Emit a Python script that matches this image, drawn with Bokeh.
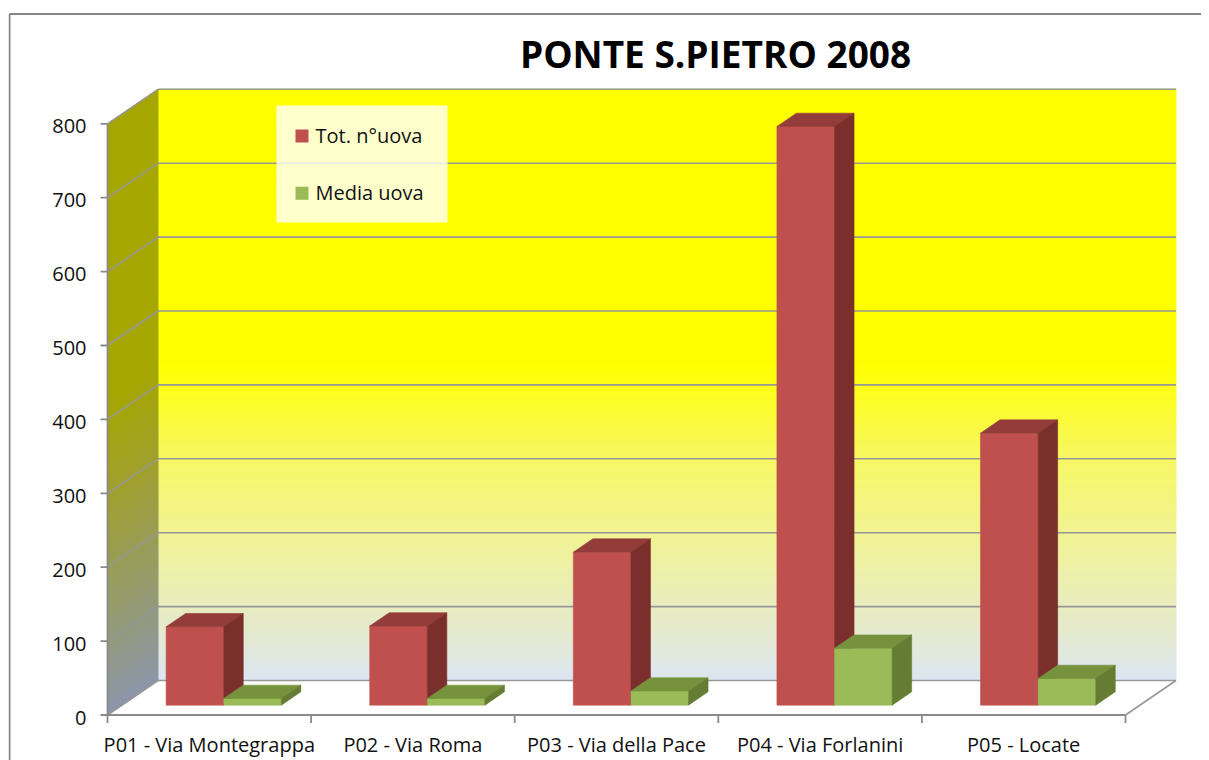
from bokeh.plotting import figure
from bokeh.embed import file_html
from bokeh.resources import INLINE
from bokeh.core.properties import value
from bokeh.models import Range1d

# ---------------- data ----------------
title_text = "PONTE S.PIETRO 2008"
categories = ["P01 - Via Montegrappa", "P02 - Via Roma", "P03 - Via della Pace",
              "P04 - Via Forlanini", "P05 - Locate"]
series_names = ["Tot. n°uova", "Media uova"]
tot_uova = [106, 107, 207, 783, 368]
media_uova = [9, 9, 19, 77, 36]
y_ticks = [0, 100, 200, 300, 400, 500, 600, 700, 800]
y_max = 800

# ---------------- layout constants ----------------
W, H = 1193, 752
PAGE = 8
OX, OY = 107 - PAGE, 714.5 - PAGE      # canvas px of the data origin (front plane)
SX = 203.6                              # px per category band
SY = 0.739                              # px per value unit
DXP, DYP = 50.5, 34.5                   # depth of the 3D box in px
DX, DY = DXP / SX, DYP / SY
TF, TB = 0.286, 0.672                   # bar depth (fraction of box depth)
BAR_L, BAR_M, BAR_R = 0.217, 0.5, 0.783 # bar edges inside a band

FONT = value("Open Sans")
RED = ("#C0504D", "#943C3A", "#7A2F2D")
GREEN = ("#9BBB59", "#76923C", "#657C33")
GRID = "#979797"


def cx(px):
    return (px - PAGE - OX) / SX


def cy(py):
    return (OY - (py - PAGE)) / SY


def interp(stops, v):
    for (v0, c0), (v1, c1) in zip(stops, stops[1:]):
        if v0 <= v <= v1:
            f = (v - v0) / (v1 - v0) if v1 != v0 else 0
            return "#%02x%02x%02x" % tuple(int(round(a + (b - a) * f)) for a, b in zip(c0, c1))
    return "#%02x%02x%02x" % (stops[-1][1] if v > stops[-1][0] else stops[0][1])


back_stops = [(0, (220, 230, 242)), (60, (228, 233, 210)), (150, (237, 240, 168)),
              (300, (247, 247, 100)), (430, (255, 255, 0)), (800, (255, 255, 0))]
side_stops = [(0, (140, 150, 170)), (150, (150, 155, 105)), (300, (160, 160, 45)),
              (430, (166, 166, 0)), (800, (166, 166, 0))]

N = len(categories)

p = figure(width=W, height=H,
           x_range=Range1d(cx(PAGE), cx(PAGE + W)),
           y_range=Range1d(cy(PAGE + H), cy(PAGE)),
           output_backend="svg", toolbar_location=None, tools="",
           x_axis_location=None, y_axis_location=None, min_border=0)
p.outline_line_color = None
p.xgrid.visible = False
p.ygrid.visible = False
p.background_fill_color = "white"
p.border_fill_color = "white"
p.margin = (8, 0, 0, 8)

# ---------------- walls (gradient strips) ----------------
nstrip = 120
bxs, bys, bcs, sxs, sys_, scs = [], [], [], [], [], []
for k in range(nstrip):
    v1 = y_max * k / nstrip
    v2 = y_max * (k + 1) / nstrip
    vm = (v1 + v2) / 2
    bxs.append([DX, N + DX, N + DX, DX])
    bys.append([v1 + DY, v1 + DY, v2 + DY, v2 + DY])
    bcs.append(interp(back_stops, vm))
    sxs.append([0, DX, DX, 0])
    sys_.append([v1, v1 + DY, v2 + DY, v2])
    scs.append(interp(side_stops, vm))
p.patches(bxs, bys, fill_color=bcs, line_color=bcs, line_width=1)
p.patches(sxs, sys_, fill_color=scs, line_color=scs, line_width=1)

# ---------------- gridlines and box edges ----------------
gx, gy = [], []
for v in y_ticks:
    gx.append([DX, N + DX]); gy.append([v + DY, v + DY])
    gx.append([0, DX]); gy.append([v, v + DY])
gx.append([N, N + DX]); gy.append([0, DY])
p.multi_line(gx, gy, line_color=GRID, line_width=1.6)

# axes lines and ticks
ax, ay = [[0, N], [0, 0]], [[0, 0], [0, y_max]]
for i in range(N + 1):
    ax.append([i, i]); ay.append([0, -8 / SY])
for v in y_ticks:
    ax.append([-7 / SX, 0]); ay.append([v, v])
p.multi_line(ax, ay, line_color="#8a8a8a", line_width=1.8)

# ---------------- bars ----------------
pxs, pys, pcs = [], [], []
for i in range(N):
    for vals, cols, (a, b) in ((tot_uova, RED, (BAR_L, BAR_M)), (media_uova, GREEN, (BAR_M, BAR_R))):
        v = vals[i]
        x0, x1 = i + a, i + b
        f0, f1 = x0 + TF * DX, x1 + TF * DX
        b0, b1 = x0 + TB * DX, x1 + TB * DX
        yf, yb = TF * DY, TB * DY
        pxs.append([f0, f1, f1, f0]); pys.append([yf, yf, v + yf, v + yf]); pcs.append(cols[0])
        pxs.append([f0, f1, b1, b0]); pys.append([v + yf, v + yf, v + yb, v + yb]); pcs.append(cols[1])
        pxs.append([f1, b1, b1, f1]); pys.append([yf, yb, v + yb, v + yf]); pcs.append(cols[2])
p.patches(pxs, pys, fill_color=pcs, line_color=pcs, line_width=0.6)

# ---------------- legend ----------------
p.quad(left=[cx(276)], right=[cx(447)], top=[cy(105)], bottom=[cy(222)],
       fill_color="white", fill_alpha=0.8, line_color=None)
leg_y = [cy(135.5), cy(192.7)]
p.scatter([cx(301.5)] * 2, leg_y, marker="square", size=13,
          fill_color=[RED[0], GREEN[0]], line_color=None)
p.text([cx(315)] * 2, [cy(134.5), cy(191.5)], text=series_names, text_font=FONT,
       text_font_size=value("20px"), text_color="#111111",
       text_align="left", text_baseline="middle")

# ---------------- texts ----------------
p.text([cx(715)], [cy(53)], text=[title_text], text_font=FONT,
       text_font_size=value("37px"), text_font_style="bold", text_color="black",
       text_align="center", text_baseline="middle")
p.text([cx(86)] * len(y_ticks), [v - 2.5 / SY for v in y_ticks],
       text=[str(v) for v in y_ticks], text_font=FONT, text_font_size=value("20px"),
       text_color="#111111", text_align="right", text_baseline="middle")
p.text([i + 0.5 for i in range(N)], [cy(744)] * N, text=categories, text_font=FONT,
       text_font_size=value("20px"), text_color="#111111",
       text_align="center", text_baseline="middle")

# ---------------- outer border ----------------
p.multi_line([[cx(9), cx(9)], [cx(9), cx(1260)]], [[cy(800), cy(13.5)], [cy(13.5), cy(13.5)]],
             line_color="#868686", line_width=2)

open("out.html", "w").write(file_html(p, INLINE))
